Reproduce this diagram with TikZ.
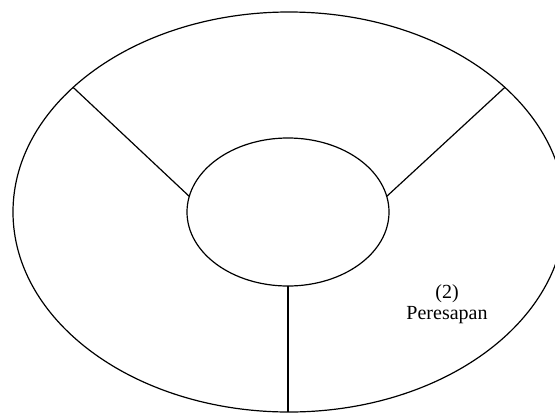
\documentclass[tikz,border=0pt]{standalone}
\usepackage{fontspec}
\setmainfont{Liberation Serif}
\usetikzlibrary{shapes.geometric}
\begin{document}
\begin{tikzpicture}[x=0.5pt,y=-0.5pt]
    \tikzset{
      ring/.style={
        ellipse, draw, line width=0.6pt,
        inner sep=0pt, outer sep=0pt,
      },
      spoke/.style={line width=0.6pt},
    }
    \clip (0,0) rectangle (555,413);
    %
    \node[ring, minimum width=276pt, minimum height=200pt] (outer) at (289,212) {};
    \node[ring, minimum width=101pt, minimum height=74pt] (inner) at (288,212) {};
    %
    \draw[spoke] (inner.171) -- (outer.150);
    \draw[spoke] (inner.9) -- (outer.30);
    \draw[spoke] (inner.south) -- (inner.south |- outer.south);
    %
    \node[align=center, font=\fontsize{10}{10.5}\selectfont] (peresapan) at (447,304) {(2)\\Peresapan};
\end{tikzpicture}
\end{document}
